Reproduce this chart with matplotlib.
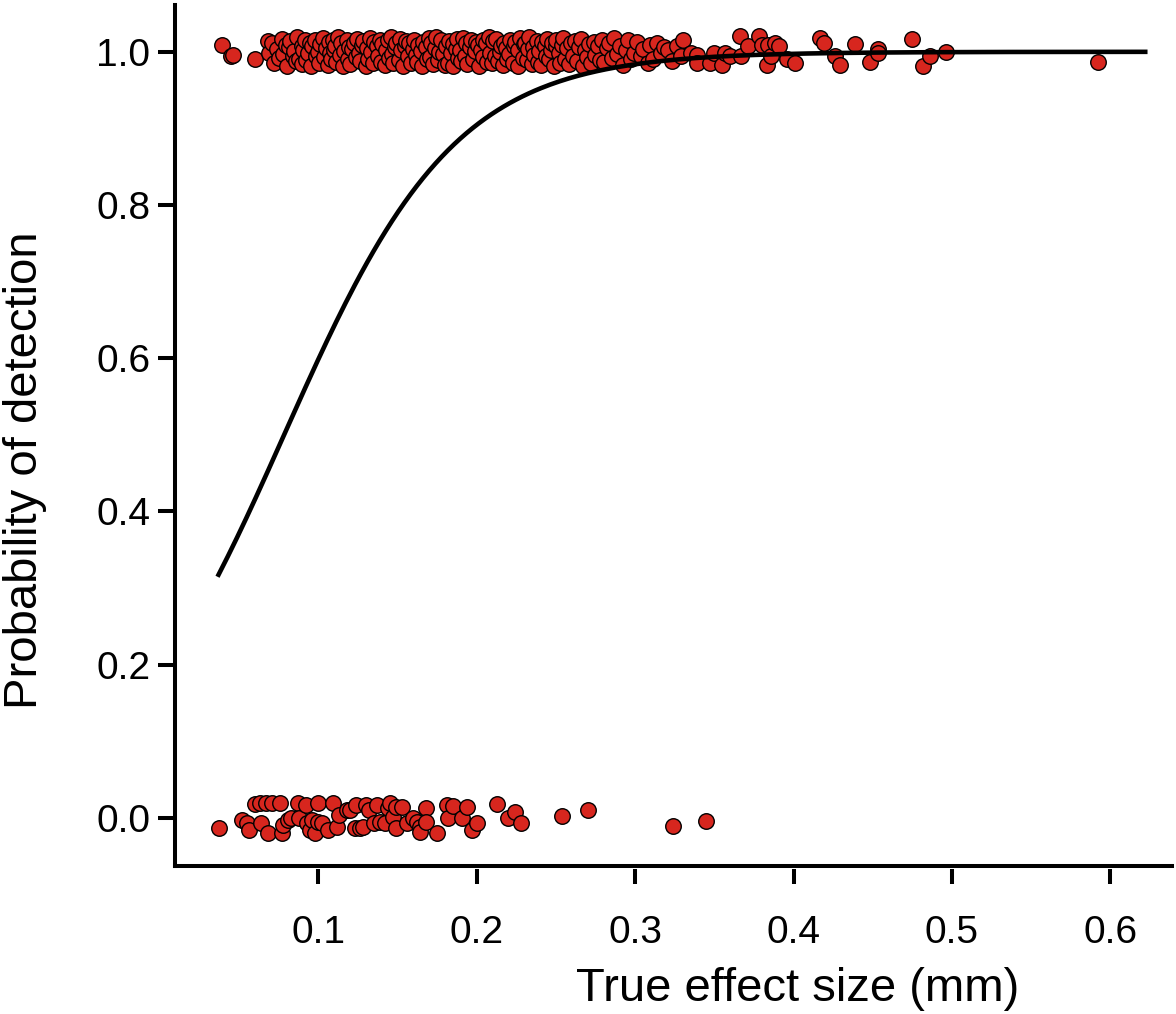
import numpy as np
import matplotlib
matplotlib.use("Agg")
import matplotlib.pyplot as plt

plt.rcParams["font.family"] = ["Liberation Sans", "DejaVu Sans"]

# ---- data ----
# detected (outcome = 1), x = true effect size (mm), y = jittered outcome
top_x = [
    0.039, 0.045, 0.046, 0.060, 0.068, 0.069,
    0.0705, 0.0722, 0.0738, 0.0751, 0.0769, 0.0776, 0.0793,
    0.0802, 0.0815, 0.0821, 0.0838, 0.0846, 0.0859, 0.0867, 0.0881, 0.0894, 0.0899,
    0.0903, 0.0917, 0.0925, 0.0936, 0.0948, 0.0953, 0.0962, 0.0977, 0.0985, 0.0996,
    0.1004, 0.1012, 0.1028, 0.1035, 0.1047, 0.1059, 0.1066, 0.1071, 0.1083, 0.1092, 0.1098,
    0.1106, 0.1113, 0.1127, 0.1134, 0.1142, 0.1158, 0.1165, 0.1179, 0.1186, 0.1194,
    0.1201, 0.1215, 0.1223, 0.1238, 0.1244, 0.1256, 0.1263, 0.1277, 0.1285, 0.1298,
    0.1305, 0.1311, 0.1326, 0.1332, 0.1347, 0.1353, 0.1368, 0.1374, 0.1389, 0.1395,
    0.1402, 0.1418, 0.1424, 0.1437, 0.1443, 0.1459, 0.1466, 0.1471, 0.1485, 0.1493,
    0.1507, 0.1514, 0.1522, 0.1536, 0.1548, 0.1555, 0.1569, 0.1573, 0.1588, 0.1596,
    0.1603, 0.1617, 0.1625, 0.1631, 0.1646, 0.1654, 0.1662, 0.1678, 0.1684, 0.1697,
    0.1708, 0.1712, 0.1726, 0.1739, 0.1745, 0.1757, 0.1764, 0.1772, 0.1786, 0.1799,
    0.1804, 0.1816, 0.1823, 0.1835, 0.1849, 0.1852, 0.1867, 0.1878, 0.1883, 0.1895,
    0.1901, 0.1914, 0.1928, 0.1933, 0.1941, 0.1956, 0.1962, 0.1975, 0.1987, 0.1993,
    0.2006, 0.2013, 0.2024, 0.2037, 0.2042, 0.2058, 0.2065, 0.2079, 0.2081, 0.2096,
    0.2103, 0.2117, 0.2122, 0.2134, 0.2149, 0.2155, 0.2168, 0.2172, 0.2186, 0.2194,
    0.2205, 0.2211, 0.2227, 0.2236, 0.2243, 0.2258, 0.2261, 0.2274, 0.2289, 0.2297,
    0.2302, 0.2318, 0.2325, 0.2331, 0.2347, 0.2356, 0.2364, 0.2379, 0.2385, 0.2392,
    0.2408, 0.2414, 0.2429, 0.2436, 0.2445, 0.2457, 0.2468, 0.2473, 0.2487, 0.2499,
    0.2503, 0.2518, 0.2526, 0.2539, 0.2547, 0.2555, 0.2572, 0.2584, 0.2598,
    0.2607, 0.2619, 0.2634, 0.2648, 0.2656, 0.2671, 0.2683, 0.2695,
    0.2709, 0.2723, 0.2738, 0.2746, 0.2764, 0.2779, 0.2791,
    0.2806, 0.2824, 0.2837, 0.2855, 0.2869, 0.2888,
    0.2903, 0.2921, 0.2942, 0.2957, 0.2976, 0.2994,
    0.3012, 0.3035, 0.3051, 0.3078, 0.3093,
    0.3114, 0.3138, 0.3162, 0.3185,
    0.3207, 0.3231, 0.3266, 0.3289,
    0.330, 0.335, 0.339, 0.339, 0.347, 0.350, 0.355, 0.357, 0.360, 0.366,
    0.367, 0.371, 0.378, 0.380, 0.383, 0.384, 0.386, 0.388, 0.391, 0.396,
    0.401, 0.417, 0.419, 0.426, 0.429, 0.439, 0.448, 0.453, 0.453, 0.475,
    0.482, 0.486, 0.496, 0.592,
]
top_y = [
    1.009, 0.994, 0.996, 0.990, 1.014, 0.999,
    1.012, 0.985, 1.004, 0.992, 1.017, 0.997, 1.009,
    0.982, 1.006, 1.014, 0.995, 1.001, 0.988, 1.019, 0.991, 1.008, 0.984,
    1.003, 1.016, 0.989, 0.998, 1.011, 0.981, 1.007, 1.015, 0.994, 1.000,
    0.986, 1.010, 1.018, 0.993, 1.005, 0.983, 1.013, 0.999, 0.990, 1.016, 1.002,
    1.008, 0.987, 1.019, 0.996, 1.012, 0.982, 1.001, 1.015, 0.991, 1.006,
    0.984, 1.004, 1.011, 0.993, 1.017, 0.998, 0.988, 1.009, 1.014, 0.981,
    1.005, 0.990, 1.018, 1.000, 0.985, 1.013, 1.007, 0.995, 1.016, 0.987,
    1.010, 0.983, 1.003, 1.015, 0.992, 1.019, 0.997, 0.986, 1.006, 1.012,
    0.989, 1.017, 1.002, 0.982, 1.008, 1.014, 0.994, 1.011, 0.985, 1.004,
    1.016, 0.996, 0.987, 1.009, 1.001, 0.981, 1.013, 1.006, 0.991, 1.018,
    0.993, 1.012, 0.984, 1.005, 1.019, 0.989, 1.000, 1.015, 0.997, 0.983,
    1.007, 0.986, 1.014, 0.999, 1.010, 0.982, 1.004, 1.017, 0.992, 1.002,
    0.988, 1.018, 0.995, 1.011, 0.984, 1.006, 1.016, 0.990, 1.001, 1.013,
    1.009, 0.981, 1.003, 1.015, 0.993, 1.012, 0.987, 1.019, 0.998, 0.985,
    1.014, 0.994, 1.017, 0.988, 1.000, 1.008, 0.983, 1.011, 1.005, 0.991,
    0.997, 1.016, 0.986, 1.007, 1.013, 0.982, 1.002, 1.018, 0.992, 1.010,
    1.011, 0.989, 1.004, 1.019, 0.984, 1.006, 0.996, 1.014, 0.987, 1.001,
    0.983, 1.013, 1.008, 0.994, 1.017, 0.990, 1.003, 1.012, 0.981, 1.007,
    1.015, 0.998, 0.986, 1.009, 1.018, 0.991, 1.005, 0.984, 1.011,
    0.995, 1.014, 0.988, 1.006, 1.017, 0.982, 1.002, 0.993,
    1.010, 0.985, 1.013, 0.996, 1.007, 0.989, 1.016,
    0.987, 1.005, 1.012, 0.992, 1.018, 0.997,
    1.008, 0.983, 1.002, 1.015, 0.990, 0.999,
    1.013, 0.994, 1.004, 0.986, 1.009,
    0.991, 1.011, 0.998, 1.006,
    1.003, 0.988, 1.008, 0.995,
    1.016, 0.999, 0.996, 0.986, 0.986, 0.999, 0.983, 0.999, 0.994, 1.020,
    0.994, 1.007, 1.020, 1.009, 0.983, 1.009, 0.994, 1.012, 1.007, 0.990,
    0.986, 1.018, 1.012, 0.994, 0.983, 1.010, 0.987, 1.004, 0.999, 1.017,
    0.982, 0.994, 1.000, 0.987,
]

# not detected (outcome = 0)
bot_x = [
    0.037, 0.052, 0.055, 0.056, 0.060, 0.063, 0.064, 0.067, 0.068, 0.071,
    0.076, 0.077, 0.078, 0.081, 0.083, 0.087, 0.088, 0.092, 0.093, 0.095,
    0.096, 0.098, 0.100, 0.100, 0.102, 0.106, 0.109, 0.112, 0.113, 0.118,
    0.120, 0.123, 0.124, 0.126, 0.128, 0.130, 0.132, 0.135, 0.137, 0.139,
    0.142, 0.144, 0.145, 0.147, 0.149, 0.149, 0.153, 0.156, 0.160, 0.162,
    0.164, 0.164, 0.168, 0.168, 0.175, 0.181, 0.182, 0.185, 0.191, 0.194,
    0.197, 0.200, 0.213, 0.220, 0.224, 0.228, 0.254, 0.270, 0.324, 0.345,
]
bot_y = [
    -0.013, -0.003, -0.007, -0.016, 0.018, 0.020, -0.007, 0.020, -0.020, 0.020,
    0.020, -0.020, -0.009, -0.003, 0.000, 0.020, 0.000, 0.017, -0.007, -0.016,
    -0.003, -0.020, 0.020, -0.005, -0.007, -0.016, 0.020, -0.012, 0.004, 0.010,
    0.010, -0.013, 0.017, -0.013, -0.012, 0.017, 0.010, -0.007, 0.017, -0.005,
    -0.007, 0.013, 0.020, 0.001, 0.014, -0.013, 0.014, -0.007, 0.000, -0.005,
    -0.012, -0.018, 0.013, -0.005, -0.020, 0.017, 0.000, 0.016, 0.000, 0.014,
    -0.016, -0.007, 0.018, 0.000, 0.008, -0.007, 0.003, 0.010, -0.010, -0.004,
]

# fitted logistic curve (logit p = b0 + b1 * x), range of the fitted line
fit_b0 = -1.45
fit_b1 = 18.5
fit_range = (0.037, 0.622)

x_ticks = [0.1, 0.2, 0.3, 0.4, 0.5, 0.6]
y_ticks = [0.0, 0.2, 0.4, 0.6, 0.8, 1.0]

# ---- figure ----
fig = plt.figure(figsize=(11.76, 10.14), dpi=100)
ax = fig.add_axes([0.1488, 0.146, 0.8478, 0.849])

ax.scatter(top_x, top_y, s=125, c="#d7261e", edgecolors="black",
           linewidths=1.0, zorder=2)
ax.scatter(bot_x, bot_y, s=125, c="#d7261e", edgecolors="black",
           linewidths=1.0, zorder=2)

xf = np.linspace(fit_range[0], fit_range[1], 300)
yf = 1.0 / (1.0 + np.exp(-(fit_b0 + fit_b1 * xf)))
ax.plot(xf, yf, color="black", lw=3.3, zorder=3)

ax.set_xlim(0.0095, 0.6389)
ax.set_ylim(-0.0627, 1.061)

for s in ["top", "right"]:
    ax.spines[s].set_visible(False)
for s in ["left", "bottom"]:
    ax.spines[s].set_linewidth(2.9)

ax.set_yticks(y_ticks)
ax.set_yticklabels(["%.1f" % v for v in y_ticks])
ax.tick_params(axis="y", direction="out", length=12.2, width=2.9, pad=5.5,
               labelsize=28)
ax.tick_params(axis="x", bottom=False, labelbottom=False)

# x ticks sit slightly below the frame line
sec = ax.secondary_xaxis(-0.0035)
sec.spines["bottom"].set_visible(False)
sec.set_xticks(x_ticks)
sec.set_xticklabels(["%.1f" % v for v in x_ticks])
sec.tick_params(direction="out", length=10.8, width=2.9, pad=22, labelsize=28)

ax.set_ylabel("Probability of detection", fontsize=34)
ax.yaxis.set_label_coords(-0.128, 0.46)
ax.set_xlabel("True effect size (mm)", fontsize=34)
ax.xaxis.set_label_coords(0.625, -0.117)

fig.savefig("out.png", dpi=100)
